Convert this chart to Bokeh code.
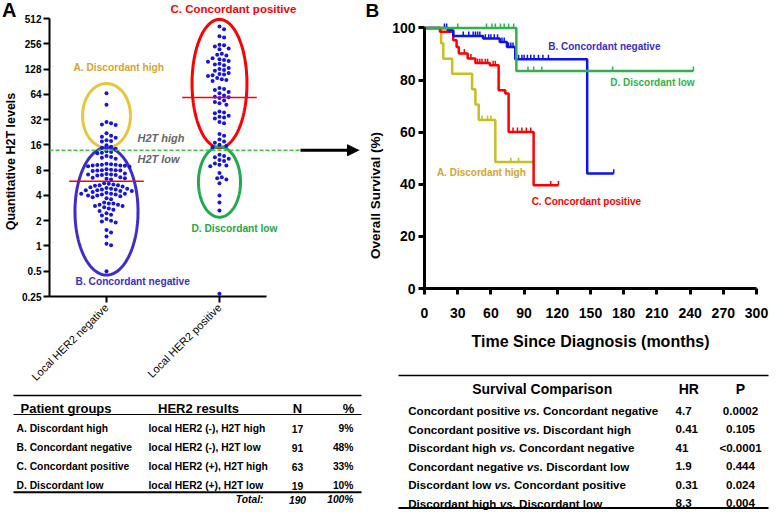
import math
import numpy as np
from bokeh.plotting import figure
from bokeh.layouts import row, column
from bokeh.models import Range1d, FixedTicker, CustomJSTickFormatter, Label, Arrow, NormalHead, Span
from bokeh.embed import file_html
from bokeh.resources import INLINE
from bokeh.core.properties import value

FONT = "Liberation Sans"

# ---------------- Panel A data ----------------
categories = ["Local HER2 negative", "Local HER2 positive"]
y_ticks_A = [0.25, 0.5, 1, 2, 4, 8, 16, 32, 64, 128, 256, 512]
h2t_cutoff = 13.8

disc_high = [66, 48, 30, 29, 28, 27.5, 22, 20.5, 20, 19.5, 18.2, 17.8, 17.5, 15.8, 15.2, 14.8, 14.4]
conc_neg = [13.4, 13.2, 12.9, 12.7, 11.8, 11.5, 11.2, 10.9,
            9.5, 9.4, 9.3, 9.2, 9.1, 9.0, 8.9, 8.8, 9.3, 9.1,
            8.2, 8.1, 8.0, 7.9, 7.8, 8.0, 7.9,
            7.3, 7.2, 7.1, 7.0, 6.9, 7.1, 7.0,
            6.6, 6.5, 6.4, 6.3, 6.2,
            5.6, 5.5, 5.4, 5.3, 5.3, 5.2, 5.1, 5.0,
            4.9, 4.8, 4.8, 4.7, 4.7, 4.6, 4.6, 4.5, 4.5, 4.4,
            4.3, 4.2, 4.2, 4.1, 4.1, 4.0, 4.0, 4.2,
            3.9, 3.8, 3.7, 3.6,
            3.3, 3.2, 3.1, 3.1, 3.0, 3.0, 3.2,
            2.9, 2.8, 2.7, 2.6,
            2.45, 2.35, 2.3,
            2.1, 2.0, 1.95, 1.9,
            1.55, 1.45, 1.3, 1.06, 1.02, 0.5]
conc_pos = [410, 380, 315, 305, 250, 245, 238, 225, 220, 195, 190, 185,
            172, 168, 164, 160, 156, 148, 145, 142, 132, 128, 125, 122,
            115, 112, 110, 108, 106, 100, 97, 95, 92, 76, 74, 72, 68, 66,
            62, 60, 59, 58, 54, 52, 50, 48, 40, 39, 38, 35.5, 34.5, 34, 33,
            30, 29, 21.5, 20.5, 18.5, 17.5, 17, 16, 15.5, 15]
disc_low = [12.2, 11.8, 11.4, 10.9, 10.6, 10.3, 9.6, 9.3, 9.1, 8.9,
            7.4, 6.6, 6.4, 6.2, 5.6, 4.0, 3.3, 2.65, 0.27]

# ---------------- Table A data ----------------
group_names = ["A. Discordant high", "B. Concordant negative", "C. Concordant positive", "D. Discordant low"]
her2_results = ["local HER2 (-), H2T high", "local HER2 (-), H2T low", "local HER2 (+), H2T high", "local HER2 (+), H2T low"]
group_n = [17, 91, 63, 19]

# ---------------- Panel B data (Kaplan-Meier, months / % surviving) ----------------
km_high_t = [0, 15, 17, 25, 43, 46, 49, 64, 98.6]
km_high_s = [100, 94.1, 88.2, 82.4, 76.5, 70.6, 64.7, 48.5, 48.5]
km_high_cens = [52, 57, 60, 78, 85, 98.6]

km_neg_t = [0, 21, 26, 53, 68, 74.5, 82, 147, 171]
km_neg_s = [100, 99.1, 96.9, 95.9, 94.6, 92.7, 88.0, 44.1, 44.1]
km_neg_cens = [18, 20, 35, 40, 44, 46, 48, 50, 55, 58, 60, 63, 66, 70, 72, 76, 78, 80,
               85, 88, 90, 93, 96, 99, 103, 107, 112, 171]

km_pos_t = [0, 14, 26, 29, 31, 39, 46, 59, 67, 73, 76, 98.6, 121]
km_pos_s = [100, 98.5, 95.3, 92.7, 90.2, 88.3, 86.5, 85.7, 76.1, 74.8, 60.1, 39.6, 39.6]
km_pos_cens = [36, 42, 48, 50, 52, 55, 57, 62, 64, 80, 84, 88, 92, 96, 114, 121]

km_low_t = [0, 83, 243]
km_low_s = [100, 83.5, 83.5]
km_low_cens = [30, 56, 61, 64, 68.6, 72, 76, 80.6, 93.5, 98.7, 106, 170, 243]

x_ticks_B = list(range(0, 301, 30))
y_ticks_B = [0, 20, 40, 60, 80, 100]

# ---------------- Table B data ----------------
comparisons = [("Concordant positive", "Concordant negative"),
               ("Concordant positive", "Discordant high"),
               ("Discordant high", "Concordant negative"),
               ("Concordant negative", "Discordant low"),
               ("Discordant low", "Concordant positive"),
               ("Discordant high", "Discordant low")]
hazard_ratios = ["4.7", "0.41", "41", "1.9", "0.31", "8.3"]
p_values = ["0.0002", "0.105", "<0.0001", "0.444", "0.024", "0.004"]

# ---------------- colours ----------------
GOLD = "#D6A62A"
PURPLE = "#3C2ECC"
RED = "#FF0000"
GREEN = "#22A84A"
DOT = "#1414E6"

COMMON = dict(output_backend="svg", toolbar_location=None, frame_align=False)


def blank_fig(w, h):
    f = figure(width=w, height=h, x_range=Range1d(0, w), y_range=Range1d(h, 0),
               x_axis_location=None, y_axis_location=None, min_border=0, **COMMON)
    f.outline_line_color = None
    f.grid.grid_line_color = None
    return f


def put(f, xs, ys, texts, size, style="bold", align="left", color="black",
        baseline="middle", angle=0.0):
    f.text(x=xs, y=ys, text=texts, text_font=value(FONT), text_font_size=value(size),
           text_font_style=value(style), text_align=value(align), text_baseline=value(baseline),
           text_color=color, angle=angle)


def lab(fig, x, y, text, size, color, style="bold", align="left", baseline="middle"):
    fig.add_layout(Label(x=x, y=y, text=text, text_font=FONT, text_font_size=size,
                         text_font_style=style, text_color=color, text_align=align,
                         text_baseline=baseline))


# =============== Panel A ===============
ylabA = blank_fig(18, 390)
put(ylabA, [1.5], [9.2], ["A"], "20px")
put(ylabA, [10], [161], ["Quantitative H2T levels"], "12.5px", align="center", angle=math.pi / 2)

X_START, X_END = 0.4956, 3.248
FRAME_W_A = 311
PX_PER_X = FRAME_W_A / (X_END - X_START)
PX_PER_LOG2 = 278 / math.log2(512 / 0.25)
Y_TOP_A = 512 * 2 ** (18 / PX_PER_LOG2)          # frame reaches the top of the page

pA = figure(width=344, height=390, x_range=Range1d(X_START, X_END), y_range=Range1d(0.25, Y_TOP_A),
            y_axis_type="log", min_border_left=31, min_border_right=2, min_border_top=0,
            min_border_bottom=94, **COMMON)
pA.outline_line_color = None
pA.grid.grid_line_color = None


def swarm_offsets(vals, gap=4.6):
    ys = np.log2(np.asarray(vals, float)) * PX_PER_LOG2
    order = np.argsort(-ys)
    cands = [0.0]
    for k in range(1, 60):
        cands += [k * gap / 2, -k * gap / 2]
    px, py = [], []
    off = np.zeros(len(ys))
    for i in order:
        chosen = 0.0
        for c in cands:
            if all((c - a) ** 2 + (ys[i] - b) ** 2 >= gap ** 2 for a, b in zip(px, py)):
                chosen = c
                break
        px.append(chosen)
        py.append(ys[i])
        off[i] = chosen
    return off / PX_PER_X


# group ellipses (category position, x half-width, lower / upper bound, colour)
ellipses = [(1, 0.212, 14.8, 86, "#E8C63A"),
            (1, 0.279, 0.45, 14.8, PURPLE),
            (2, 0.243, 14.8, 500, RED),
            (2, 0.186, 2.2, 15.2, "#1FAA4F")]
tt = np.linspace(0, 2 * np.pi, 200)
for cx, hw, lo, hi, col in ellipses:
    c = (math.log2(lo) + math.log2(hi)) / 2
    r = (math.log2(hi) - math.log2(lo)) / 2
    pA.line(cx + hw * np.cos(tt), 2 ** (c + r * np.sin(tt)), line_color=col, line_width=3)

neg_vals = disc_high + conc_neg
pos_vals = conc_pos + disc_low
for pos, vals in ((1, neg_vals), (2, pos_vals)):
    xs = pos + swarm_offsets(vals)
    pA.scatter(xs, vals, size=4, marker="circle", fill_color=DOT, line_color=None)
    med = float(np.median(vals))
    pA.line([pos - 0.33, pos + 0.33], [med, med], line_color=RED, line_width=1.5)

pA.add_layout(Span(location=h2t_cutoff, dimension="width", line_color="#3CCB3C",
                   line_dash="4 2", line_width=1.5))
pA.add_layout(Arrow(end=NormalHead(size=11, line_color="black", fill_color="black"),
                    x_start=2.717, y_start=h2t_cutoff, x_end=3.23, y_end=h2t_cutoff,
                    line_color="black", line_width=3))

pA.xaxis.ticker = FixedTicker(ticks=[1, 2])
pA.xaxis.major_label_overrides = {1: categories[0], 2: categories[1]}
pA.xaxis.bounds = (X_START, 2.42)
pA.xaxis.major_label_orientation = math.pi / 4
pA.xaxis.major_label_text_font_size = "11px"
pA.xaxis.major_label_standoff = 3
pA.yaxis.ticker = FixedTicker(ticks=y_ticks_A)
pA.yaxis.bounds = (0.25, 512)
pA.yaxis.formatter = CustomJSTickFormatter(code="return String(tick);")
pA.yaxis.major_label_text_font_size = "10px"
pA.yaxis.major_label_text_font_style = "bold"
pA.yaxis.major_label_standoff = 2
for ax in pA.axis:
    ax.axis_line_width = 2
    ax.major_tick_line_width = 2
    ax.major_tick_out = 6
    ax.major_tick_in = 0
    ax.minor_tick_line_color = None
    ax.major_label_text_font = FONT
    ax.major_label_text_color = "black"

lab(pA, 1.566, 665, group_names[2], "11.5px", RED)
lab(pA, 0.708, 133, group_names[0], "10.2px", GOLD)
lab(pA, 1.274, 19.5, "H2T high", "11px", "#666666", style="bold italic")
lab(pA, 1.274, 11.0, "H2T low", "11px", "#666666", style="bold italic")
lab(pA, 0.726, 0.38, group_names[1], "10.2px", PURPLE)
lab(pA, 1.752, 1.61, group_names[3], "10.2px", GREEN)

# =============== Table A ===============
tA = blank_fig(362, 120)
a_rows = [38.3 + i * 18.9 for i in range(len(group_names))]
tA.segment(x0=[13] * 3, x1=[361] * 3, y0=[5, 24, 101.7], y1=[5, 24, 101.7],
           line_color="black", line_width=[1.5, 1, 2])
put(tA, [20], [17.7], ["Patient groups"], "13px")
put(tA, [198, 297, 348], [17.7] * 3, ["HER2 results", "N", "%"], "13px", align="center")
total_n = sum(group_n)
pcts = ["%d%%" % round(100 * n / total_n) for n in group_n]
put(tA, [16] * 4, a_rows, group_names, "10.3px")
put(tA, [148] * 4, a_rows, her2_results, "10.3px")
put(tA, [297] * 4, a_rows, [str(n) for n in group_n], "10.3px", align="center")
put(tA, [353] * 4, a_rows, pcts, "10.3px", align="right")
put(tA, [263], [109], ["Total:"], "10.3px", style="bold italic", align="right")
put(tA, [297], [109], [str(total_n)], "10.3px", style="bold italic", align="center")
put(tA, [353], [109], ["100%"], "10.3px", style="bold italic", align="right")

# =============== Panel B ===============
ylabB = blank_fig(24, 366)
put(ylabB, [3], [9.7], ["B"], "19px")
put(ylabB, [12.5], [195], ["Overall Survival (%)"], "13.5px", align="center", angle=math.pi / 2)

pB = figure(width=390, height=366, x_range=Range1d(0, 300), y_range=Range1d(0, 104),
            min_border_left=38, min_border_right=20, min_border_top=17, min_border_bottom=78,
            **COMMON)
pB.outline_line_color = None
pB.grid.grid_line_color = None

curves = [(km_high_t, km_high_s, km_high_cens, "#C9BD1F"),
          (km_pos_t, km_pos_s, km_pos_cens, RED),
          (km_neg_t, km_neg_s, km_neg_cens, "#0A14F0"),
          (km_low_t, km_low_s, km_low_cens, "#2DB34A")]
for t, s, cens, col in curves:
    pB.step(t, s, mode="after", line_color=col, line_width=2.5)
    idx = np.searchsorted(t, cens, side="right") - 1
    cs = np.asarray(s, float)[idx]
    pB.segment(x0=cens, y0=cs, x1=cens, y1=cs + 1.7, line_color=col, line_width=1.5)

pB.xaxis.ticker = FixedTicker(ticks=x_ticks_B)
pB.yaxis.ticker = FixedTicker(ticks=y_ticks_B)
pB.yaxis.bounds = (0, 100)
pB.xaxis.axis_label = "Time Since Diagnosis (months)"
pB.xaxis.axis_label_text_font_size = "16px"
pB.xaxis.axis_label_standoff = 12
pB.xaxis.major_label_standoff = 13
pB.yaxis.major_label_standoff = 3
for ax in pB.axis:
    ax.axis_line_width = 3
    ax.major_tick_line_width = 3
    ax.major_tick_out = 6
    ax.major_tick_in = 0
    ax.minor_tick_line_color = None
    ax.major_label_text_font = FONT
    ax.major_label_text_font_size = "14px"
    ax.major_label_text_font_style = "bold"
    ax.major_label_text_color = "black"
    ax.axis_label_text_font = FONT
    ax.axis_label_text_font_style = "bold"
    ax.axis_label_text_color = "black"

lab(pB, 111.8, 93.0, group_names[1], "10px", PURPLE)
lab(pB, 167.8, 78.9, group_names[3], "10px", "#2DB34A")
lab(pB, 11.2, 44.7, group_names[0], "10px", GOLD)
lab(pB, 96.8, 33.5, group_names[2], "10px", RED)

# =============== Table B ===============
W_BOLD = {' ': 278, '.': 278, 'C': 722, 'D': 722, 'o': 611, 'n': 611, 'c': 556, 'r': 389, 'd': 611,
          'a': 556, 't': 333, 'p': 611, 's': 556, 'i': 278, 'v': 556, 'e': 556, 'g': 611, 'h': 611,
          'l': 278, 'w': 778}


def tw(s, fs):
    return sum(W_BOLD.get(ch, 556) for ch in s) * fs / 1000.0


tB = blank_fig(414, 144)
b_rows = [44.0 + i * 18.5 for i in range(len(comparisons))]
tB.segment(x0=[36, 36], x1=[406, 406], y0=[9, 141.5], y1=[9, 141.5],
           line_color="black", line_width=[1.5, 2])
put(tB, [179.7, 326.3, 378], [22.3] * 3, ["Survival Comparison", "HR", "P"], "14px", align="center")
FS_B = 11.6
x0 = 45.7
first_x, vs_x, second_x = [], [], []
for a, b in comparisons:
    first_x.append(x0)
    xv = x0 + tw(a + " ", FS_B)
    vs_x.append(xv)
    second_x.append(xv + tw("vs. ", FS_B))
fsb = "%.1fpx" % FS_B
put(tB, first_x, b_rows, [a for a, b in comparisons], fsb)
put(tB, vs_x, b_rows, ["vs."] * len(comparisons), fsb, style="bold italic")
put(tB, second_x, b_rows, [b for a, b in comparisons], fsb)
put(tB, [313] * 6, b_rows, hazard_ratios, fsb)
put(tB, [378] * 6, b_rows, p_values, fsb, align="center")

left = column(row(ylabA, pA), tA)
right = column(row(ylabB, pB), tB)
layout = row(left, right)
open("out.html", "w").write(file_html(layout, INLINE))
